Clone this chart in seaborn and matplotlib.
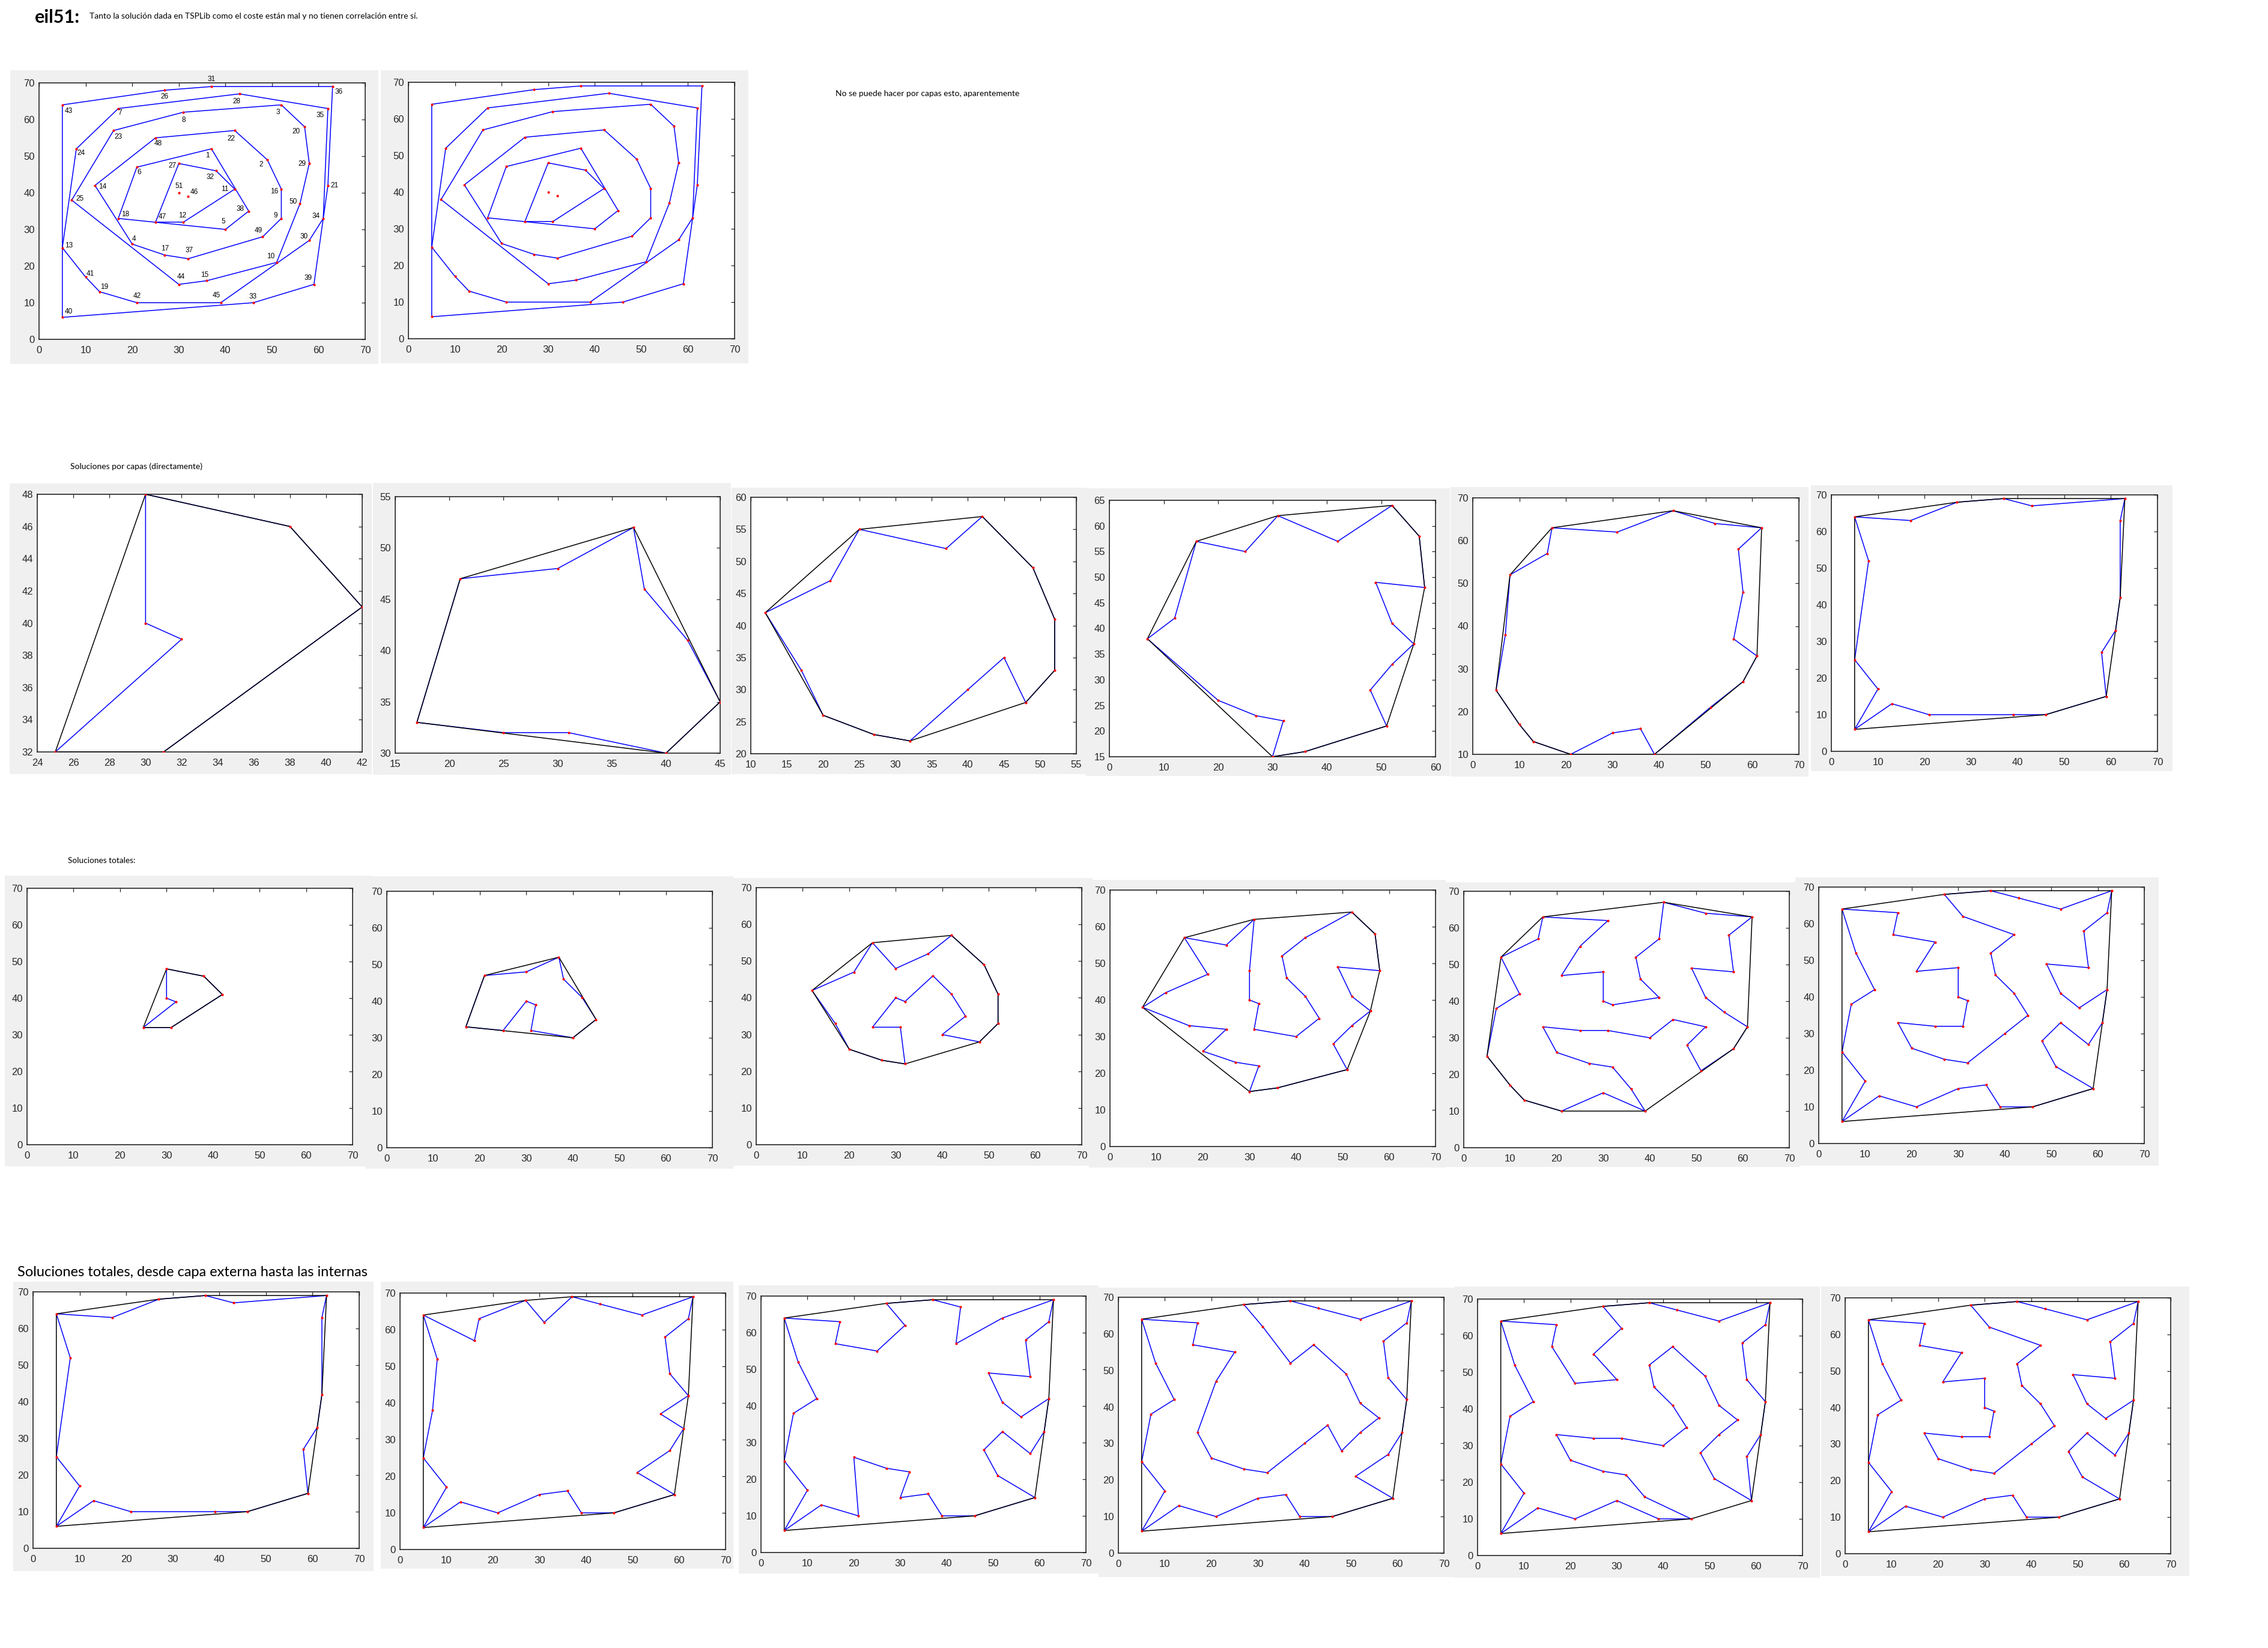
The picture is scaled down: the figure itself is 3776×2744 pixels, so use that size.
import matplotlib
matplotlib.use("Agg")
import matplotlib.pyplot as plt
import matplotlib.patches as mpatches
import numpy as np
import pandas as pd
import seaborn as sns

W, H = 3776, 2744

# eil51 cities, node 1..51
NODE_X = [37, 49, 52, 20, 40, 21, 17, 31, 52, 51, 42, 31, 5, 12, 36, 52, 27, 17, 13, 57,
          62, 42, 16, 8, 7, 27, 30, 43, 58, 58, 37, 38, 46, 61, 62, 63, 32, 45, 59, 5,
          10, 21, 5, 30, 39, 32, 25, 25, 48, 56, 30]
NODE_Y = [52, 49, 64, 26, 30, 47, 63, 62, 33, 21, 41, 32, 25, 42, 16, 41, 23, 33, 13, 58,
          42, 57, 57, 52, 38, 68, 48, 67, 48, 27, 69, 46, 10, 33, 63, 69, 22, 35, 15, 6,
          17, 10, 64, 15, 10, 39, 32, 55, 28, 37, 40]

# convex hull layers (outer -> inner)
LAYER_1 = [43, 26, 31, 36, 21, 39, 33, 40]
LAYER_2 = [13, 24, 7, 28, 35, 34, 30, 45, 42, 19, 41]
LAYER_3 = [25, 23, 8, 3, 20, 29, 50, 10, 15, 44]
LAYER_4 = [14, 48, 22, 2, 16, 9, 49, 37, 17, 4]
LAYER_5 = [18, 6, 1, 38, 5]
LAYER_6 = [27, 32, 11, 12, 47]
LAYER_7 = [51, 46]
LAYERS = [LAYER_1, LAYER_2, LAYER_3, LAYER_4, LAYER_5, LAYER_6, LAYER_7]

# "Soluciones por capas (directamente)": layer k + layer k+1
TOUR_L6 = [27, 51, 46, 47, 12, 11, 32]
TOUR_L5 = [18, 6, 27, 1, 32, 11, 38, 5, 12, 47]
TOUR_L4 = [14, 6, 48, 1, 22, 2, 16, 9, 49, 38, 5, 37, 17, 4, 18]
TOUR_L3 = [25, 14, 23, 48, 8, 22, 3, 20, 29, 2, 16, 50, 9, 49, 10, 15, 44, 37, 17, 4]
TOUR_L2 = [13, 25, 24, 23, 7, 8, 28, 3, 35, 20, 29, 50, 34, 30, 10, 45, 15, 44, 42, 19, 41]
TOUR_L1 = [43, 7, 26, 31, 28, 36, 35, 21, 34, 30, 39, 33, 45, 42, 19, 40, 41, 13, 24]

# "Soluciones totales": from inner layer outwards
TOTAL_5 = [18, 6, 27, 1, 32, 11, 38, 5, 12, 46, 51, 47]
TOTAL_4 = [14, 6, 48, 27, 1, 22, 2, 16, 9, 49, 5, 38, 11, 32, 46, 51, 47, 12, 37, 17, 4, 18]
TOTAL_3 = [25, 14, 6, 23, 48, 8, 27, 51, 46, 12, 5, 38, 11, 32, 1, 22, 3, 20, 29, 2, 16, 50,
           9, 49, 10, 15, 44, 37, 17, 4, 47, 18]
TOTAL_2 = [13, 25, 14, 24, 23, 7, 8, 48, 6, 27, 51, 46, 11, 32, 1, 22, 28, 3, 35, 20, 29, 2,
           16, 50, 34, 30, 10, 49, 9, 38, 5, 12, 47, 18, 4, 17, 37, 15, 45, 44, 42, 19, 41]
TOTAL_1 = [43, 7, 23, 48, 6, 27, 51, 46, 12, 47, 18, 4, 17, 37, 5, 38, 11, 32, 1, 22, 8, 26,
           31, 28, 3, 36, 35, 20, 29, 2, 16, 50, 21, 34, 30, 9, 49, 10, 39, 33, 45, 15, 44,
           42, 19, 40, 41, 13, 25, 14, 24]

# "desde capa externa hasta las internas"
OUTER_2 = [43, 23, 7, 26, 8, 31, 28, 3, 36, 35, 20, 29, 21, 50, 34, 30, 10, 39, 33, 45, 15,
           44, 42, 19, 40, 41, 13, 25, 24]
OUTER_3 = [43, 7, 23, 48, 8, 26, 31, 28, 22, 3, 36, 35, 20, 29, 2, 16, 50, 21, 34, 30, 9, 49,
           10, 39, 33, 45, 15, 44, 37, 17, 4, 42, 19, 40, 41, 13, 25, 14, 24]
OUTER_4 = [43, 7, 23, 48, 6, 18, 4, 17, 37, 5, 38, 49, 9, 50, 16, 2, 22, 1, 8, 26, 31, 28, 3,
           36, 35, 20, 29, 21, 34, 30, 10, 39, 33, 45, 15, 44, 42, 19, 40, 41, 13, 25, 14, 24]
OUTER_5 = [43, 7, 23, 6, 27, 48, 8, 26, 31, 28, 3, 36, 35, 20, 29, 21, 34, 30, 39, 10, 49, 9,
           50, 16, 2, 22, 1, 32, 11, 38, 5, 12, 47, 18, 4, 17, 37, 15, 33, 45, 44, 42, 19, 40,
           41, 13, 25, 14, 24]

# where the node numbers sit in the first plot (data units from the city)
LABEL_OFFSET = {
    31: (0, 2), 26: (0, -1.7), 43: (1.35, -1.7), 36: (1.3, -1.4), 28: (-0.6, -2.0),
    35: (-1.7, -1.8), 7: (0.3, -1.2), 3: (-0.7, -2.1), 8: (0.1, -2.2), 20: (-1.8, -1.3),
    23: (1, -1.8), 48: (0.6, -1.5), 22: (-0.8, -2.2), 24: (1, -1.1), 1: (-0.8, -1.8),
    2: (-1.3, -1.3), 29: (-1.5, -0.2), 27: (-1.4, -0.7), 6: (0.5, -1.5), 32: (-1.2, -1.8),
    14: (1.6, -0.4), 51: (0, 1.8), 11: (-2.1, 0), 16: (-1.5, -0.6), 46: (1.3, 1.2),
    21: (1.4, 0), 25: (1.8, 0.3), 50: (-1.5, 0.6), 38: (-1.8, 0.5), 18: (1.5, 1.1),
    9: (-1.3, 0.8), 34: (-1.6, 0.6), 47: (1.5, 1.5), 12: (-0.2, 1.8), 5: (-0.5, 2.1),
    49: (-0.9, 1.7), 30: (-1.2, 1.0), 4: (0.4, 1.4), 13: (1.45, 0.5), 17: (0, 1.8),
    37: (0.3, 2.3), 10: (-1.3, 1.7), 41: (1, 0.9), 44: (0.4, 2.1), 15: (-0.5, 1.6),
    39: (-1.3, 1.7), 19: (1, 1.2), 42: (0.1, 1.8), 45: (-0.9, 1.9), 33: (-0.1, 1.6),
    40: (1.4, 1.5),
}

FULL = (0, 70, 10, 0, 70, 10)

# (gray box, axes box, hull, tour, limits) -- boxes are pixel x0, y0, x1, y1
PANELS = [
    ((16, 805, 619, 1289), (62, 823, 603, 1252), LAYER_6, TOUR_L6, (24, 42, 2, 32, 48, 2)),
    ((621, 804, 1217, 1290), (658, 827, 1199, 1254), LAYER_5, TOUR_L5, (15, 45, 5, 30, 55, 5)),
    ((1218, 812, 1808, 1289), (1250, 828, 1792, 1255), LAYER_4, TOUR_L4, (10, 55, 5, 20, 60, 5)),
    ((1808, 813, 2414, 1292), (1847, 833, 2390, 1260), LAYER_3, TOUR_L3, (0, 60, 10, 15, 65, 5)),
    ((2415, 811, 3011, 1293), (2452, 829, 2995, 1256), LAYER_2, TOUR_L2, (0, 70, 10, 10, 70, 10)),
    ((3015, 808, 3617, 1284), (3049, 824, 3592, 1251), LAYER_1, TOUR_L1, FULL),

    ((8, 1458, 619, 1942), (45, 1479, 587, 1906), LAYER_6, TOUR_L6, FULL),
    ((609, 1459, 1221, 1946), (644, 1484, 1186, 1911), LAYER_5, TOTAL_5, FULL),
    ((1220, 1462, 1819, 1941), (1259, 1478, 1801, 1906), LAYER_4, TOTAL_4, FULL),
    ((1813, 1465, 2407, 1944), (1848, 1482, 2390, 1909), LAYER_3, TOTAL_3, FULL),
    ((2407, 1469, 2997, 1943), (2437, 1484, 2979, 1911), LAYER_2, TOTAL_2, FULL),
    ((2989, 1461, 3594, 1941), (3028, 1477, 3570, 1904), LAYER_1, TOTAL_1, FULL),

    ((22, 2134, 622, 2616), (55, 2151, 598, 2578), LAYER_1, TOUR_L1, FULL),
    ((634, 2134, 1221, 2612), (666, 2153, 1208, 2580), LAYER_1, OUTER_2, FULL),
    ((1230, 2140, 1829, 2620), (1267, 2158, 1808, 2585), LAYER_1, OUTER_3, FULL),
    ((1829, 2144, 2422, 2626), (1862, 2160, 2404, 2586), LAYER_1, OUTER_4, FULL),
    ((2422, 2142, 3030, 2627), (2460, 2163, 3001, 2590), LAYER_1, OUTER_5, FULL),
    ((3032, 2142, 3645, 2624), (3072, 2161, 3614, 2587), LAYER_1, TOTAL_1, FULL),
]

LAYER_PANELS = [
    ((17, 117, 630, 606), (65, 138, 608, 565), True),
    ((634, 117, 1246, 605), (680, 137, 1223, 564), False),
]

sns.set_theme(style="white")
plt.rcParams['font.family'] = ['Liberation Sans', 'DejaVu Sans']

BLUE = '#0000ff'
AXIS_COLOR = '#262626'

fig = plt.figure(figsize=(W / 100, H / 100), dpi=100)
fig.patch.set_facecolor('white')


def frac(box):
    x0, y0, x1, y1 = box
    return [x0 / W, 1 - y1 / H, (x1 - x0) / W, (y1 - y0) / H]


def new_panel(bg_box, ax_box):
    l, b, w, h = frac(bg_box)
    fig.add_artist(mpatches.Rectangle((l, b), w, h, transform=fig.transFigure,
                                      facecolor='#f0f0f0', edgecolor='none', zorder=0))
    ax = fig.add_axes(frac(ax_box))
    ax.set_facecolor('white')
    return ax


def path_frame(nodes):
    seq = list(nodes) + [nodes[0]]
    return pd.DataFrame({'x': [NODE_X[n - 1] for n in seq],
                         'y': [NODE_Y[n - 1] for n in seq]})


def draw_cycle(ax, nodes, color, lw, z):
    sns.lineplot(data=path_frame(nodes), x='x', y='y', sort=False, estimator=None,
                 color=color, linewidth=lw, ax=ax, zorder=z)


def draw_cities(ax, nodes):
    nodes = sorted(set(nodes))
    df = pd.DataFrame({'x': [NODE_X[n - 1] for n in nodes],
                       'y': [NODE_Y[n - 1] for n in nodes]})
    sns.scatterplot(data=df, x='x', y='y', color='red', s=9, linewidth=0,
                    ax=ax, zorder=5)


def style_axes(ax, lim):
    x0, x1, xs, y0, y1, ys = lim
    ax.set_xlim(x0, x1)
    ax.set_ylim(y0, y1)
    ax.set_xticks(np.arange(x0, x1 + 0.1, xs))
    ax.set_yticks(np.arange(y0, y1 + 0.1, ys))
    ax.set(xlabel='', ylabel='')
    ax.tick_params(direction='in', length=4, width=0.9, top=True, right=True,
                   labelsize=12, labelcolor=AXIS_COLOR, color=AXIS_COLOR)
    ax.tick_params(axis='x', pad=8)
    ax.tick_params(axis='y', pad=5)
    for sp in ax.spines.values():
        sp.set_visible(True)
        sp.set_color(AXIS_COLOR)
        sp.set_linewidth(1.2)
    ax.grid(False)


# first row: every hull layer drawn as its own closed polygon
for bg_box, ax_box, labelled in LAYER_PANELS:
    ax = new_panel(bg_box, ax_box)
    for layer in LAYERS:
        if len(layer) > 2:
            draw_cycle(ax, layer, BLUE, 1.1, 2)
    draw_cities(ax, range(1, 52))
    if labelled:
        for n, (dx, dy) in LABEL_OFFSET.items():
            ax.text(NODE_X[n - 1] + dx, NODE_Y[n - 1] + dy, str(n), fontsize=8.5,
                    ha='center', va='center', color='black', zorder=6)
    style_axes(ax, FULL)

# layer tours (blue) with the hull of that layer on top (black)
for bg_box, ax_box, hull, tour, lim in PANELS:
    ax = new_panel(bg_box, ax_box)
    draw_cycle(ax, tour, BLUE, 1.1, 2)
    draw_cycle(ax, hull, 'black', 1.1, 3)
    draw_cities(ax, list(tour) + list(hull))
    style_axes(ax, lim)

# document text around the figures
renderer = fig.canvas.get_renderer()


def doc_text(x0, x1, baseline, s, weight='normal'):
    t = fig.text(x0 / W, 1 - baseline / H, s, fontsize=10, family=['Lato', 'DejaVu Sans'],
                 weight=weight, ha='left', va='baseline', color='black')
    w = t.get_window_extent(renderer).width
    t.set_fontsize(10 * (x1 - x0) / w)
    return t


doc_text(58, 133, 38, 'eil51:', weight='bold')
doc_text(149, 695, 31, 'Tanto la solución dada en TSPLib como el coste están mal y no tienen correlación entre sí.')
doc_text(1391, 1698, 160, 'No se puede hacer por capas esto, aparentemente')
doc_text(117, 336, 781, 'Soluciones por capas (directamente)')
doc_text(113, 225, 1437, 'Soluciones totales:')
doc_text(29, 613, 2125, 'Soluciones totales, desde capa externa hasta las internas')

fig.savefig('out.png', dpi=100)
